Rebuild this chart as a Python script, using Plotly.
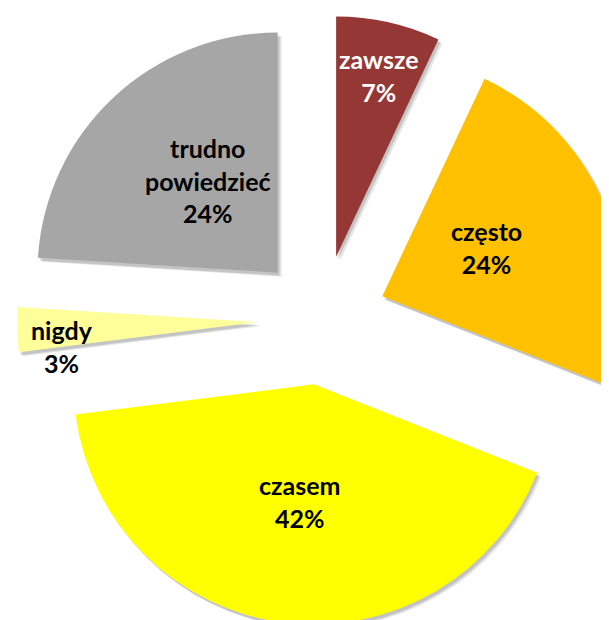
import math
import plotly.graph_objects as go

labels = ["zawsze", "często", "czasem", "nigdy", "trudno<br>powiedzieć"]
values = [7, 24, 42, 3, 24]

colors = ["#953735", "#FFC000", "#FFFF00", "#FFFF99", "#A6A6A6"]
text_colors = ["white", "black", "black", "black", "black"]
label_radius = [0.74, 0.48, 0.52, 0.82, 0.47]  # fraction of radius where labels sit
label_nudge = [(4, -8), (-3, -6), (2, -7), (2, 18), (8, -10)]  # px fine-tuning

PULL = 0.27
PIE = 610           # px box of the pie (incl. pull)
P = 614             # plot area (room for shadow offsets)
W, H = 640, 640
ML, MT = 9, 7
MR, MB = W - ML - P, H - MT - P

fig = go.Figure()

# soft drop shadow (two offset translucent copies)
for dx, dy, a in [(4, 4, 0.10), (2, 3, 0.14)]:
    fig.add_trace(go.Pie(
        labels=labels, values=values, sort=False, direction="clockwise", rotation=0,
        pull=[PULL] * len(values),
        marker=dict(colors=[f"rgba(0,0,0,{a})"] * len(values), line=dict(width=0)),
        textinfo="none", hoverinfo="skip", showlegend=False,
        domain=dict(x=[dx / P, (dx + PIE) / P], y=[(P - PIE - dy) / P, (P - dy) / P]),
    ))

fig.add_trace(go.Pie(
    labels=labels,
    values=values,
    sort=False,
    direction="clockwise",
    rotation=0,
    pull=[PULL] * len(values),
    marker=dict(colors=colors, line=dict(width=0)),
    textinfo="none",
    hoverinfo="label+percent",
    showlegend=False,
    domain=dict(x=[0, PIE / P], y=[(P - PIE) / P, 1]),
))

# label positions derived from the data (slice mid-angles)
total = sum(values)
r = PIE / 2 / (1 + PULL)
cx, cy = PIE / 2, PIE / 2
cum = 0
for lab, v, tc, f, (nx, ny) in zip(labels, values, text_colors, label_radius, label_nudge):
    mid = (cum + v / 2) / total * 2 * math.pi
    cum += v
    d = (PULL + f) * r
    px = cx + d * math.sin(mid) + nx
    py = cy - d * math.cos(mid) + ny
    pct = round(v / total * 100)
    fig.add_annotation(
        x=px / P, y=1 - py / P, xref="paper", yref="paper",
        xanchor="center", yanchor="middle",
        text=f"<b>{lab}<br>{pct}%</b>", showarrow=False,
        font=dict(family="Lato, Open Sans, sans-serif", size=25, color=tc),
        align="center",
    )

fig.update_layout(
    width=W, height=H,
    margin=dict(l=ML, r=MR, t=MT, b=MB),
    paper_bgcolor="white",
    plot_bgcolor="white",
)

fig.write_html("out.html")
